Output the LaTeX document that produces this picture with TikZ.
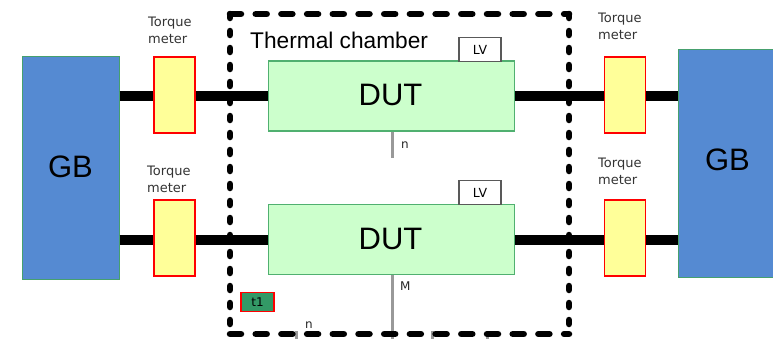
\documentclass[tikz,border=0pt]{standalone}
\usepackage{fontspec}
\setmainfont{Liberation Sans}
\newfontfamily\smallfont{DejaVu Sans}
\begin{document}
\begin{tikzpicture}[x=1pt,y=-1pt,
  gbbox/.style={draw=gbedge,line width=1pt,fill=gbfill,inner sep=0pt,minimum width=97pt},
  gbtext/.style={inner sep=0pt,anchor=base,font=\fontsize{31}{33}\selectfont},
  tmbox/.style={draw=red,line width=1.8pt,fill=tmfill,inner sep=0pt,minimum width=41pt,minimum height=76pt},
  dutbox/.style={draw=dutedge,line width=1.2pt,fill=dutfill,inner sep=0pt,minimum width=246pt,minimum height=70pt},
  duttext/.style={inner sep=0pt,anchor=base,font=\fontsize{31}{33}\selectfont},
  lvbox/.style={draw=black!65,line width=1.6pt,fill=white,inner sep=0pt,minimum width=42pt,minimum height=24pt,font=\smallfont\fontsize{12.5}{14}\selectfont},
  tmlabel/.style={anchor=north west,inner sep=0pt,align=left,text=black!80,font=\smallfont\fontsize{13}{17}\selectfont},
  shaft/.style={line width=10pt},
  probe/.style={draw=black!40,line width=3pt},
  smalltxt/.style={inner sep=0pt,text=black!85,font=\smallfont\fontsize{12}{14}\selectfont},
  chamberv/.style={line width=6.5pt,line cap=round,dash pattern=on 4pt off 13pt},
  chamberh/.style={line width=6.5pt,line cap=round,dash pattern=on 11pt off 14.7pt}
]
\definecolor{gbfill}{RGB}{85,138,210}
\definecolor{gbedge}{RGB}{70,160,110}
\definecolor{tmfill}{RGB}{255,255,153}
\definecolor{dutfill}{RGB}{204,255,204}
\definecolor{dutedge}{RGB}{80,176,112}
\definecolor{tonefill}{RGB}{51,153,102}
\useasboundingbox (0,0) rectangle (773,338);

% gearboxes
\node[gbbox,minimum height=223pt] (gbL) at (70.5,167.5) {};
\node[gbbox,minimum height=228pt] (gbR) at (726.5,163) {};
\node[gbtext] (gbLt) at (70.5,177) {GB};
\node[gbtext] (gbRt) at (727.5,170) {GB};

% DUTs
\node[dutbox] (dutT) at (391.5,96) {};
\node[dutbox] (dutB) at (391.5,239.5) {};
\node[duttext] (dutTt) at (390.5,105) {DUT};
\node[duttext] (dutBt) at (390.5,249) {DUT};

% torque meters
\node[tmbox] (tmLT) at (174.5,95) {};
\node[tmbox] (tmLB) at (174.5,238) {};
\node[tmbox] (tmRT) at (625,95) {};
\node[tmbox] (tmRB) at (625,238) {};

% shafts
\draw[shaft] (gbL.east |- dutT.west) -- (tmLT.west |- dutT.west);
\draw[shaft] (tmLT.east |- dutT.west) -- (dutT.west);
\draw[shaft] (dutT.east) -- (tmRT.west |- dutT.east);
\draw[shaft] (tmRT.east |- dutT.east) -- (gbR.west |- dutT.east);
\draw[shaft] (gbL.east |- dutB.west) -- (tmLB.west |- dutB.west);
\draw[shaft] (tmLB.east |- dutB.west) -- (dutB.west);
\draw[shaft] (dutB.east) -- (tmRB.west |- dutB.east);
\draw[shaft] (tmRB.east |- dutB.east) -- (gbR.west |- dutB.east);

% redraw torque meters on top of shafts
\node[tmbox] at (tmLT) {};
\node[tmbox] at (tmLB) {};
\node[tmbox] at (tmRT) {};
\node[tmbox] at (tmRB) {};

% torque meter labels
\node[tmlabel] (lbLT) at (148,16.5) {Torque\\meter};
\node[tmlabel] (lbLB) at (147,165.5) {Torque\\meter};
\node[tmlabel] (lbRT) at (598,12.5) {Torque\\meter};
\node[tmlabel] (lbRB) at (598,157.5) {Torque\\meter};

% LV boxes
\node[lvbox] (lvT) at (480,49.5) {LV};
\node[lvbox] (lvB) at (480,192.5) {LV};

% probes
\coordinate (nEnd) at (392,158);
\coordinate (mEnd) at (392,340);
\draw[probe] (dutT.south -| nEnd) -- (nEnd);
\draw[probe] (dutB.south -| mEnd) -- (mEnd);
\node[smalltxt,anchor=base west] (nT) at (401,148) {n};
\node[smalltxt,anchor=base west] (mB) at (400,290) {M};
\coordinate (s1a) at (296,331); \coordinate (s1b) at (296,340);
\coordinate (s2a) at (432,331); \coordinate (s2b) at (432,340);
\coordinate (s3a) at (487,331); \coordinate (s3b) at (487,340);
\draw[probe] (s1a) -- (s1b);
\draw[probe] (s2a) -- (s2b);
\draw[probe] (s3a) -- (s3b);
\node[smalltxt,anchor=base west] (nB) at (305,328) {n};

% t1
\node[draw=red,line width=1.8pt,fill=tonefill,inner sep=0pt,minimum width=33pt,minimum height=19pt,font=\smallfont\fontsize{12}{14}\selectfont] (t1) at (257.5,302) {t1};

% thermal chamber
\coordinate (cTL) at (230,14);
\coordinate (cTR) at (569,14);
\coordinate (cBR) at (569,334);
\coordinate (cBL) at (230,334);
\draw[chamberh] (cTL) -- (cTR);
\draw[chamberv] (cTR) -- (cBR);
\draw[chamberh] (cBL) -- (cBR);
\draw[chamberv] (cTL) -- (cBL);
\node[inner sep=0pt,anchor=base west,font=\fontsize{22.7}{24}\selectfont] (tc) at (250,48) {Thermal chamber};
\end{tikzpicture}
\end{document}
